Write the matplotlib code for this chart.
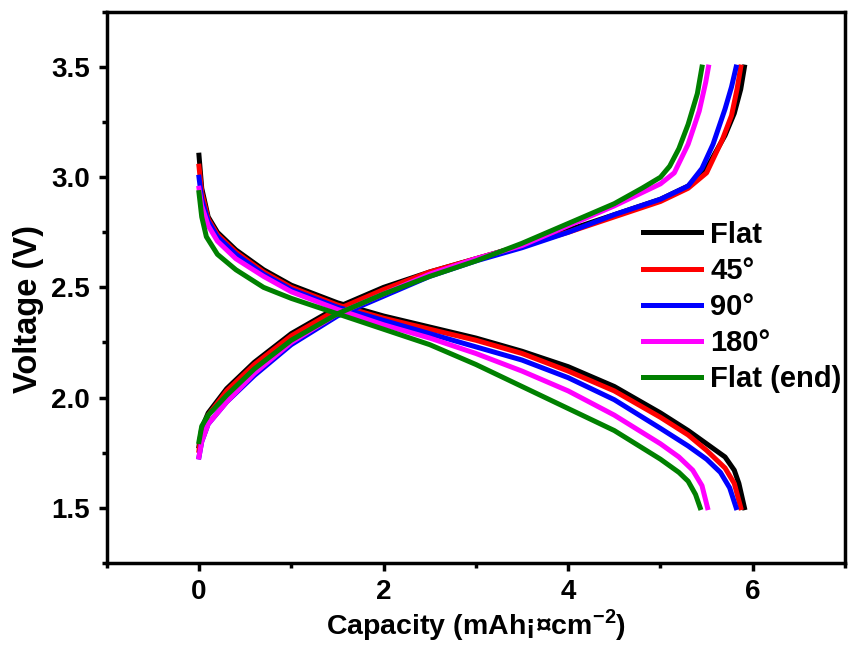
import matplotlib
matplotlib.use("Agg")
import matplotlib.pyplot as plt
from matplotlib.ticker import MultipleLocator

plt.rcParams['font.family'] = ['Liberation Sans', 'DejaVu Sans']
plt.rcParams['font.weight'] = 'bold'
plt.rcParams['mathtext.fontset'] = 'custom'
plt.rcParams['mathtext.bf'] = 'Liberation Sans:bold'
plt.rcParams['mathtext.rm'] = 'Liberation Sans:bold'

labels = ['Flat', '45°', '90°', '180°', 'Flat (end)']
colors = ['black', 'red', 'blue', 'magenta', 'green']

# discharge curves (capacity, voltage)
dis_cap = [
    [0, 0.03, 0.1, 0.2, 0.4, 0.7, 1.0, 1.5, 2.0, 2.5, 3.0, 3.5, 4.0, 4.5, 5.0, 5.3, 5.5, 5.7, 5.8, 5.85, 5.91],
    [0, 0.03, 0.1, 0.2, 0.4, 0.7, 1.0, 1.5, 2.0, 2.5, 3.0, 3.5, 4.0, 4.5, 5.0, 5.3, 5.5, 5.7, 5.8, 5.87],
    [0, 0.03, 0.1, 0.2, 0.4, 0.7, 1.0, 1.5, 2.0, 2.5, 3.0, 3.5, 4.0, 4.5, 5.0, 5.3, 5.5, 5.65, 5.75, 5.82],
    [0, 0.03, 0.1, 0.2, 0.4, 0.7, 1.0, 1.5, 2.0, 2.5, 3.0, 3.5, 4.0, 4.5, 5.0, 5.2, 5.35, 5.45, 5.51],
    [0, 0.03, 0.08, 0.2, 0.4, 0.7, 1.0, 1.5, 2.0, 2.5, 3.0, 3.5, 4.0, 4.5, 5.0, 5.2, 5.3, 5.38, 5.43],
]
dis_volt = [
    [3.10, 2.95, 2.82, 2.75, 2.67, 2.58, 2.51, 2.43, 2.37, 2.32, 2.27, 2.21, 2.14, 2.05, 1.93, 1.85, 1.79, 1.73, 1.67, 1.61, 1.50],
    [3.05, 2.93, 2.81, 2.74, 2.66, 2.57, 2.50, 2.42, 2.36, 2.31, 2.26, 2.20, 2.12, 2.03, 1.91, 1.83, 1.76, 1.68, 1.61, 1.50],
    [3.00, 2.90, 2.80, 2.73, 2.65, 2.56, 2.49, 2.41, 2.35, 2.29, 2.23, 2.17, 2.09, 1.99, 1.86, 1.78, 1.72, 1.66, 1.59, 1.50],
    [2.95, 2.87, 2.78, 2.71, 2.63, 2.55, 2.48, 2.40, 2.33, 2.27, 2.20, 2.12, 2.03, 1.92, 1.79, 1.73, 1.67, 1.60, 1.50],
    [2.93, 2.82, 2.73, 2.65, 2.58, 2.50, 2.45, 2.38, 2.31, 2.24, 2.15, 2.05, 1.95, 1.85, 1.72, 1.66, 1.62, 1.56, 1.50],
]

# charge curves (capacity, voltage)
chg_cap = [
    [0, 0.03, 0.1, 0.3, 0.6, 1.0, 1.5, 2.0, 2.5, 3.0, 3.5, 4.0, 4.5, 5.0, 5.3, 5.5, 5.7, 5.8, 5.87, 5.91],
    [0, 0.03, 0.1, 0.3, 0.6, 1.0, 1.5, 2.0, 2.5, 3.0, 3.5, 4.0, 4.5, 5.0, 5.3, 5.5, 5.67, 5.77, 5.83, 5.87],
    [0, 0.03, 0.1, 0.3, 0.6, 1.0, 1.5, 2.0, 2.5, 3.0, 3.5, 4.0, 4.5, 5.0, 5.3, 5.45, 5.57, 5.7, 5.77, 5.82],
    [0, 0.03, 0.1, 0.3, 0.6, 1.0, 1.5, 2.0, 2.5, 3.0, 3.5, 4.0, 4.5, 4.8, 5.0, 5.15, 5.3, 5.42, 5.49, 5.52],
    [0, 0.03, 0.1, 0.3, 0.6, 1.0, 1.5, 2.0, 2.5, 3.0, 3.5, 4.0, 4.5, 4.8, 5.0, 5.1, 5.2, 5.3, 5.4, 5.45],
]
chg_volt = [
    [1.78, 1.86, 1.93, 2.04, 2.16, 2.29, 2.41, 2.50, 2.57, 2.63, 2.69, 2.76, 2.83, 2.90, 2.96, 3.04, 3.19, 3.29, 3.40, 3.50],
    [1.76, 1.85, 1.92, 2.03, 2.15, 2.28, 2.40, 2.49, 2.57, 2.63, 2.69, 2.75, 2.82, 2.89, 2.95, 3.02, 3.17, 3.28, 3.40, 3.50],
    [1.73, 1.80, 1.88, 1.98, 2.10, 2.24, 2.37, 2.46, 2.55, 2.62, 2.68, 2.75, 2.83, 2.90, 2.96, 3.04, 3.15, 3.31, 3.41, 3.50],
    [1.73, 1.80, 1.88, 1.98, 2.11, 2.25, 2.38, 2.47, 2.56, 2.63, 2.69, 2.78, 2.87, 2.93, 2.97, 3.02, 3.15, 3.30, 3.43, 3.50],
    [1.80, 1.87, 1.92, 2.01, 2.13, 2.26, 2.38, 2.47, 2.55, 2.62, 2.70, 2.79, 2.88, 2.95, 3.00, 3.05, 3.13, 3.24, 3.38, 3.50],
]

fig = plt.figure(figsize=(8.48, 6.57), dpi=100)
ax = fig.add_axes([0.1258, 0.1435, 0.8707, 0.8382])

for i in range(len(labels)):
    ax.plot(dis_cap[i], dis_volt[i], color=colors[i], lw=3.6, label=labels[i])
    ax.plot(chg_cap[i], chg_volt[i], color=colors[i], lw=3.6)

ax.set_xlim(-1, 7)
ax.set_ylim(1.25, 3.75)
ax.xaxis.set_major_locator(MultipleLocator(2))
ax.xaxis.set_minor_locator(MultipleLocator(1))
ax.yaxis.set_major_locator(MultipleLocator(0.5))
ax.yaxis.set_minor_locator(MultipleLocator(0.25))

for s in ax.spines.values():
    s.set_linewidth(2.5)
ax.tick_params(which='major', direction='out', length=6, width=2.5, labelsize=20, pad=6)
ax.tick_params(which='minor', direction='out', length=3.5, width=2.5)

ax.set_xlabel('Capacity (mAh¡¤cm$^{\\mathbf{-2}}$)', fontsize=20.5, fontweight='bold', labelpad=1)
ax.set_ylabel('Voltage (V)', fontsize=23.5, fontweight='bold')
ax.yaxis.set_label_coords(-0.085, 0.4607)

ax.legend(loc='center left', bbox_to_anchor=(0.7264, 0.4643), frameon=False,
          fontsize=21, handlelength=2.0, handletextpad=0.31, labelspacing=0.28,
          borderpad=0, borderaxespad=0)

fig.savefig('out.png', dpi=100)
